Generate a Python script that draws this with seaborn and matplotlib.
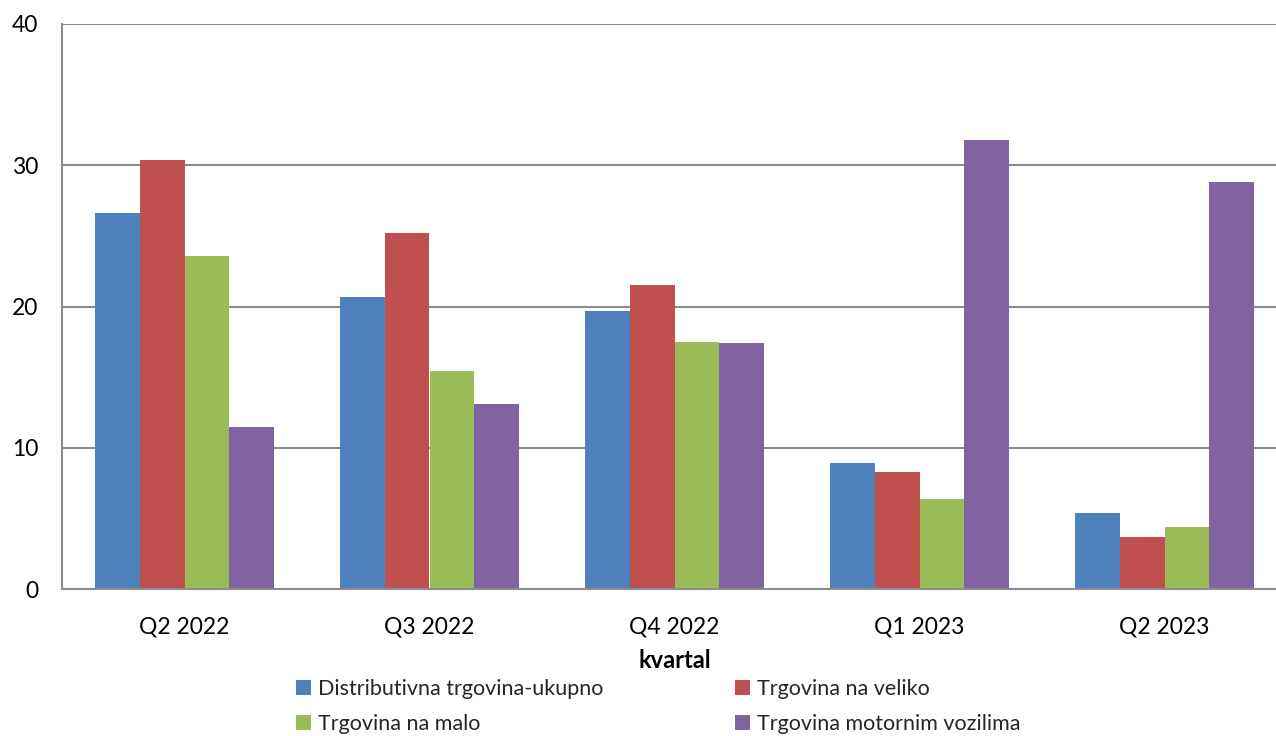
import matplotlib
matplotlib.use("Agg")
import matplotlib.pyplot as plt
import seaborn as sns
import pandas as pd
from matplotlib.patches import Patch

quarters = ["Q2 2022", "Q3 2022", "Q4 2022", "Q1 2023", "Q2 2023"]
series = ["Distributivna trgovina-ukupno", "Trgovina na veliko",
          "Trgovina na malo", "Trgovina motornim vozilima"]
ukupno = [26.6, 20.7, 19.7, 8.9, 5.4]
veliko = [30.4, 25.2, 21.5, 8.3, 3.7]
malo = [23.6, 15.4, 17.5, 6.4, 4.4]
motorna = [11.5, 13.1, 17.4, 31.8, 28.8]
colors = ["#4F81BD", "#C0504D", "#9BBB59", "#8064A2"]

rows = []
for s, vals in zip(series, [ukupno, veliko, malo, motorna]):
    for q, v in zip(quarters, vals):
        rows.append({"kvartal": q, "serija": s, "vrijednost": v})
df = pd.DataFrame(rows)

sns.set_theme(style="white")
plt.rcParams["font.family"] = ["Lato", "DejaVu Sans"]

fig = plt.figure(figsize=(12.76, 7.36), dpi=100)
ax = fig.add_axes([62/1276, 1 - 589/736, (1287 - 62)/1276, (589 - 24)/736])

sns.barplot(data=df, x="kvartal", y="vrijednost", hue="serija",
            order=quarters, hue_order=series, palette=colors,
            width=0.727, saturation=1, ax=ax, legend=False, linewidth=0)

ax.set_ylim(0, 40)
ax.set_xlim(-0.5, 4.5)
ax.set_yticks([0, 10, 20, 30, 40])
ax.yaxis.grid(True, color="#8C8C8C", linewidth=1.5)
ax.set_axisbelow(True)
for sp in ["top", "right"]:
    ax.spines[sp].set_visible(False)
for sp in ["left", "bottom"]:
    ax.spines[sp].set_color("#8C8C8C")
    ax.spines[sp].set_linewidth(1.5)

# category boundary ticks
ax.set_xticks([0, 1, 2, 3, 4])
ax.set_xticks([-0.5, 0.5, 1.5, 2.5, 3.5, 4.5], minor=True)
ax.tick_params(axis="x", which="major", length=0, labelsize=16.5, pad=20, colors="#000000")
ax.tick_params(axis="x", which="minor", length=7, width=1.5, color="#8C8C8C", direction="out")
ax.tick_params(axis="y", length=7, width=1.5, color="#8C8C8C", direction="out", labelsize=16.5, pad=10)
for lbl in ax.get_xticklabels() + ax.get_yticklabels():
    lbl.set_color("black")

ax.set_xlabel("kvartal", fontsize=17, fontweight="bold", labelpad=8, color="black")
ax.set_ylabel("")

# legend filled row-wise: reorder for matplotlib's column-wise filling
order = [0, 2, 1, 3]
handles = [Patch(facecolor=colors[i], edgecolor="none") for i in order]
labels = [series[i] for i in order]
fig.legend(handles, labels, loc="upper left", bbox_to_anchor=(296/1276, 1 - 679/736),
           ncol=2, frameon=False, fontsize=15.5, handlelength=0.7, handleheight=0.7,
           handletextpad=0.3, columnspacing=6.15, labelspacing=0.7,
           borderaxespad=0, borderpad=0)

fig.savefig("out.png", dpi=100)
